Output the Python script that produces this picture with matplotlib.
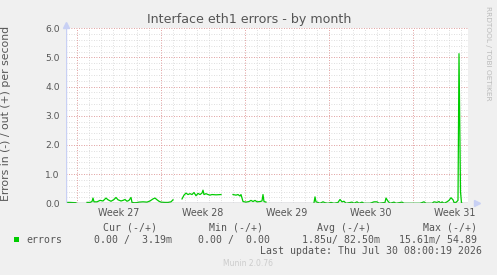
import numpy as np
import matplotlib
matplotlib.use("Agg")
import matplotlib.pyplot as plt

W, H = 497, 275

# hours since left edge of the graph, errors out (+) per second
hours = [0, 8, 20, 30,
         42, 48, 52, 54, 56, 62, 68, 74, 80, 84, 90, 96, 100, 104, 110, 114, 118, 122, 126, 130,
         132, 136, 140, 146, 154, 162, 168, 174, 178, 182, 186, 190, 198, 204, 210, 214, 222,
         232, 236, 240, 244, 248, 252, 256, 260, 264, 268, 272, 274, 276, 280, 284, 288, 292,
         300, 310, 320,
         334, 340, 344, 348, 350, 354, 360, 366, 370, 374, 378, 382, 388, 392, 394, 396, 400, 450,
         496, 498, 500, 504, 508, 514, 518, 524, 530, 536, 544, 548, 552, 556, 560, 572, 576,
         582, 586, 592, 596, 608, 616, 622, 626, 638, 640, 644, 648, 656, 660, 672, 676, 708,
         716, 720, 732, 736, 742, 746, 750, 752, 756, 762, 766, 770, 774, 776, 780, 784, 786,
         789, 791, 792]
errors = [0.03, 0.03, 0.02, np.nan,
          0.03, 0.03, 0.06, 0.18, 0.05, 0.05, 0.10, 0.08, 0.18, 0.12, 0.07, 0.13, 0.20, 0.12, 0.08, 0.10, 0.13, 0.07, 0.10, 0.20,
          0.03, 0.02, 0.02, 0.04, 0.05, 0.04, 0.08, 0.15, 0.18, 0.12, 0.07, 0.04, 0.03, 0.03, 0.05, 0.12, np.nan,
          0.15, 0.28, 0.35, 0.30, 0.33, 0.30, 0.37, 0.26, 0.34, 0.30, 0.35, 0.45, 0.30, 0.33, 0.30, 0.28, 0.30,
          0.29, 0.30, np.nan,
          0.30, 0.28, 0.30, 0.25, 0.30, 0.06, 0.04, 0.06, 0.10, 0.06, 0.10, 0.05, 0.06, 0.08, 0.30, 0.06, 0.04, np.nan,
          0.02, 0.22, 0.05, 0.03, 0.00, 0.05, 0.02, 0.00, 0.03, 0.00, 0.03, 0.13, 0.05, 0.07, 0.00, 0.04, 0.00,
          0.05, 0.00, 0.04, 0.00, 0.00, 0.05, 0.05, 0.00, 0.03, 0.18, 0.07, 0.00, 0.04, 0.00, 0.04, 0.00, 0.00,
          0.05, 0.00, 0.00, 0.05, 0.03, 0.06, 0.00, 0.05, 0.00, 0.05, 0.10, 0.19, 0.12, 0.03, 0.03, 0.10, 5.13,
          0.40, 0.00, 0.00]

week_labels = ["Week 27", "Week 28", "Week 29", "Week 30", "Week 31"]
y_ticks = [0, 1, 2, 3, 4, 5, 6]

legend_head = ["Cur (-/+)", "Min (-/+)", "Avg (-/+)", "Max (-/+)"]
legend_vals = ["0.00 /  3.19m", "0.00 /  0.00", "1.85u/ 82.50m", "15.61m/ 54.89"]

txt = "#555555"
mono = "DejaVu Sans Mono"


def fx(x):
    return x / W


def fy(y):
    return 1 - y / H


fig = plt.figure(figsize=(W / 100, H / 100), dpi=100, facecolor="#F0F0F0")
ax = fig.add_axes([fx(66), fy(203.3), (468 - 66) / W, (203.3 - 28.3) / H])
ax.set_facecolor("white")
ax.set_xlim(0, 804)
ax.set_ylim(0, 6)

# grid: minor every day / 0.2, major every week / 1.0
for h in np.arange(22, 804, 24):
    ax.axvline(h, color="#D4D4D4", lw=0.6, ls=(0, (1, 2)), zorder=1)
for v in np.arange(0.2, 6.01, 0.2):
    ax.axhline(v, color="#D4D4D4", lw=0.6, ls=(0, (1, 2)), zorder=1)
for h in np.arange(22, 804, 168):
    ax.axvline(h, color="#E89090", lw=0.6, ls=(0, (1, 2)), zorder=2)
for v in y_ticks[1:]:
    ax.axhline(v, color="#E89090", lw=0.6, ls=(0, (1, 2)), zorder=2)

ax.plot(hours, errors, color="#00CC00", lw=0.9, zorder=3)

for s in ax.spines.values():
    s.set_visible(False)
ax.axhline(0, color="#80808C", lw=1.0, zorder=4)
ax.axvline(0, color="#C8D0F4", lw=1.0, zorder=4)
ax.plot([0], [6.1], marker="^", color="#C8D0F4", ms=4, clip_on=False, zorder=5)
ax.plot([822], [0], marker=">", color="#C8D0F4", ms=4, clip_on=False, zorder=5)

ax.set_yticks(y_ticks)
ax.set_yticklabels(["%.1f" % v for v in y_ticks])
ax.set_xticks(np.arange(106, 804, 168))
ax.set_xticklabels(week_labels)
ax.tick_params(axis="y", length=0, pad=4.5, labelsize=6.6, labelcolor=txt)
ax.tick_params(axis="x", length=0, pad=3.5, labelsize=6.9, labelcolor=txt)

ax.set_ylabel("Errors in (-) / out (+) per second", fontsize=7.8, color=txt)
ax.yaxis.set_label_coords(-(66 - 11) / (468 - 66), 0.515)

fig.text(fx(249), fy(19), "Interface eth1 errors - by month", fontsize=9.1,
         color=txt, ha="center", va="center")
fig.text(fx(488), fy(53), "RRDTOOL / TOBI OETIKER", fontsize=5.3, color="#BBBBBB",
         rotation=270, ha="center", va="center")

# legend block
head_x = [103, 209, 317, 423]
val_x = [94, 198, 302, 399]
for x, s in zip(head_x, legend_head):
    fig.text(fx(x), fy(228), s, family=mono, fontsize=7.1, color=txt, va="center")
fig.patches.append(plt.Rectangle((fx(14), fy(242)), 5 / W, 5 / H, transform=fig.transFigure,
                                 facecolor="#00CC00", edgecolor="none"))
fig.text(fx(26), fy(240), "errors", family=mono, fontsize=7.1, color=txt, va="center")
for x, s in zip(val_x, legend_vals):
    fig.text(fx(x), fy(240), s, family=mono, fontsize=7.1, color=txt, va="center")
fig.text(fx(482), fy(251.5), "Last update: Thu Jul 30 08:00:19 2026", family=mono,
         fontsize=7.1, color=txt, ha="right", va="center")
fig.text(fx(248), fy(264), "Munin 2.0.76", fontsize=5.5, color="#CCCCCC",
         ha="center", va="center")

fig.savefig("out.png", dpi=100, facecolor=fig.get_facecolor())
